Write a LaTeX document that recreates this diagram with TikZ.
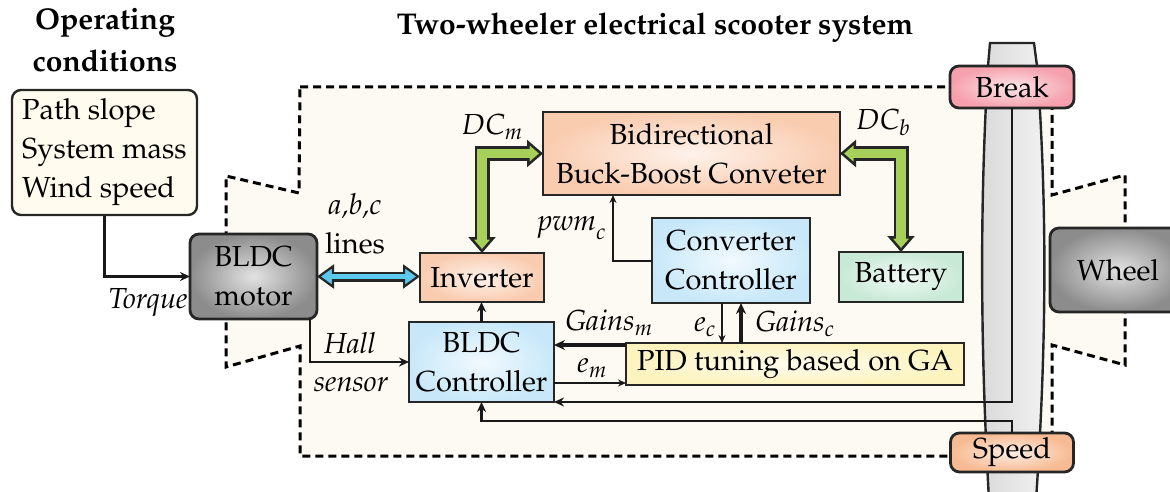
\documentclass[tikz,border=0pt]{standalone}
\usepackage[T1]{fontenc}
\usepackage{mathpazo}
\usepackage{tikz}
\usetikzlibrary{arrows.meta, calc, positioning}
\definecolor{peach-color}{RGB}{249,204,176}
\definecolor{sky-color}{RGB}{200,232,249}
\definecolor{mint-color}{RGB}{200,233,214}
\definecolor{lemon-color}{RGB}{252,243,190}
\definecolor{rose-color}{RGB}{245,160,172}
\definecolor{apricot-color}{RGB}{247,186,146}
\definecolor{steel-color}{RGB}{140,140,140}
\definecolor{cream-color}{RGB}{253,250,243}
\definecolor{note-color}{RGB}{255,251,238}
\definecolor{lime-color}{RGB}{166,208,90}
\definecolor{cyan-color}{RGB}{92,200,236}
\newcommand{\bigtxt}{\fontsize{29}{39}\selectfont}

\begin{document}
\begin{tikzpicture}[x=1pt, y=-1pt,
    % block styles, shaded like the figure
    blk/.style={draw=black!85, line width=2.8pt, inner sep=0pt, outer sep=0pt,
                shade, inner color=#1!25!white, outer color=#1, font=\bigtxt, align=center},
    rblk/.style={blk=#1, rounded corners=9pt},
    cbox/.style={draw=black!85, fill=note-color, line width=2.4pt, rounded corners=9pt,
                 inner sep=0pt, font=\fontsize{29}{39}\selectfont, align=left},
    % signal arrows
    sig/.style={-{Stealth[length=10pt,width=9pt]}, line width=2.6pt, black!90},
    thinsig/.style={-{Stealth[length=8pt,width=7pt]}, line width=2pt, black!90},
    gainsig/.style={-{Stealth[length=11pt,width=10pt]}, line width=3.2pt, black!90},
    % fat power arrows: dark outline, coloured core
    fatout/.style={line width=15pt, black!85,
                   {Triangle[length=16pt,width=27pt,fill=#1,line width=2.5pt]}-{Triangle[length=16pt,width=27pt,fill=#1,line width=2.5pt]}},
    fatin/.style={line width=9.5pt, #1, shorten <=12pt, shorten >=12pt},
    thinout/.style={line width=10pt, black!85,
                   {Triangle[length=17pt,width=24pt,fill=#1,line width=2.2pt]}-{Triangle[length=17pt,width=24pt,fill=#1,line width=2.2pt]}},
    thinin/.style={line width=5.5pt, #1, shorten <=13pt, shorten >=13pt},
    lbl/.style={font=\bigtxt\itshape, inner sep=0pt},
    ttl/.style={font=\fontsize{30}{42}\selectfont\bfseries, align=center}
]
\useasboundingbox (0,0) rectangle (1170,492);

% ===== TITLES =====
\node[ttl] (optitle) at (105,40) {Operating\\conditions};
\node[ttl] (systitle) at (655,28) {Two-wheeler electrical scooter system};

% ===== SYSTEM BOUNDARY =====
\draw[fill=cream-color, line width=3pt, dash pattern=on 8pt off 5pt]
    (300,87) -- (1052,87) -- (1052,195) -- (1125,175) -- (1125,365) -- (1052,345)
    -- (1052,456) -- (300,456) -- (300,346) -- (226,367) -- (226,176) -- (299,193) -- cycle;

% tyre
\draw[line width=2.4pt, black!85, left color=black!15, right color=black!5]
    (990,43) -- (1034,43) -- (1037,66) .. controls (1047,200) and (1047,340) .. (1036,500)
    -- (989,500) .. controls (980,340) and (980,200) .. (988,66) -- cycle;

% ===== BLOCKS =====
\node[cbox, minimum width=185pt, minimum height=125pt] (cond) at (104.5,152.5)
    {Path slope\\System mass\\Wind speed};
\node[rblk=steel-color, minimum width=127pt, minimum height=85pt] (motor) at (253.5,276.5) {BLDC\\motor};
\node[blk=peach-color, minimum width=124pt, minimum height=49pt] (inverter) at (482,277.5) {Inverter};
\node[blk=peach-color, minimum width=297pt, minimum height=83pt] (buck) at (691.5,153.5)
    {Bidirectional\\Buck-Boost Conveter};
\node[blk=sky-color, minimum width=158pt, minimum height=85pt] (convctrl) at (731,260.5) {Converter\\Controller};
\node[blk=mint-color, minimum width=124pt, minimum height=50pt] (battery) at (901,277) {Battery};
\node[blk=sky-color, minimum width=145pt, minimum height=80pt] (bldcctrl) at (481.5,362) {BLDC\\Controller};
\node[blk=lemon-color, minimum width=338pt, minimum height=42pt] (pid) at (795,364) {PID tuning based on GA};
\node[rblk=rose-color, minimum width=124pt, minimum height=42pt] (brk) at (1012,87) {Break};
\node[rblk=apricot-color, minimum width=123pt, minimum height=39pt] (spd) at (1012,452.5) {Speed};
\node[rblk=steel-color, minimum width=136pt, minimum height=84pt] (wheel) at (1118,270) {Wheel};

% ===== POWER FLOW =====
\draw[thinout=cyan-color] (motor.east) -- (motor.east -| inverter.west);
\draw[thinin=cyan-color] (motor.east) -- (motor.east -| inverter.west);
\draw[fatout=lime-color] (inverter.north) |- (buck.west);
\draw[fatin=lime-color] (inverter.north) |- (buck.west);
\draw[fatout=lime-color] (buck.east) -| (battery.north);
\draw[fatin=lime-color] (buck.east) -| (battery.north);

% ===== SIGNALS =====
\coordinate (emin) at ([yshift=2pt]pid.south west);
\coordinate (gmout) at ([yshift=-2pt]pid.north west);
\coordinate (spdbend) at ([yshift=12pt]spd.north);

\draw[sig] (cond.south) |- (motor.west);
\draw[sig] ([xshift=-7pt]motor.south east) |- (bldcctrl.west);
\draw[sig] (bldcctrl.north) -- (bldcctrl.north |- inverter.south);
\draw[thinsig] (convctrl.west) -| ([xshift=70pt]buck.south west);
\draw[gainsig] (gmout) -- (gmout -| bldcctrl.east);
\draw[thinsig] (bldcctrl.east |- emin) -- (emin);
\draw[thinsig] ([xshift=-9pt]convctrl.south) -- ([xshift=-9pt]convctrl.south |- pid.north);
\draw[gainsig] ([xshift=10pt]convctrl.south |- pid.north) -- ([xshift=10pt]convctrl.south);
\draw[sig] (brk.south) |- (bldcctrl.south east);
\draw[sig] (spd.north) -- (spdbend) -| (bldcctrl.south);

% ===== LABELS =====
\node[lbl] (torquelbl) at (148,302) {Torque};
\node[lbl, align=center] (abclbl) at (355,224) {a,b,c\\\upshape lines};
\node[lbl] (dcmlbl) at (492,127) {$DC_m$};
\node[lbl] (dcblbl) at (883,122) {$DC_b$};
\node[lbl] (pwmlbl) at (572,228) {$\mathit{pwm}_c$};
\node[lbl] (halllbl) at (350,343) {Hall};
\node[lbl] (sensorlbl) at (351,384) {sensor};
\node[lbl] (gmlbl) at (609,323) {$\mathit{Gains}_m$};
\node[lbl] (emlbl) at (592,368) {$e_m$};
\node[lbl] (eclbl) at (705,327) {$e_c$};
\node[lbl] (gclbl) at (795,324) {$\mathit{Gains}_c$};

\end{tikzpicture}
\end{document}
